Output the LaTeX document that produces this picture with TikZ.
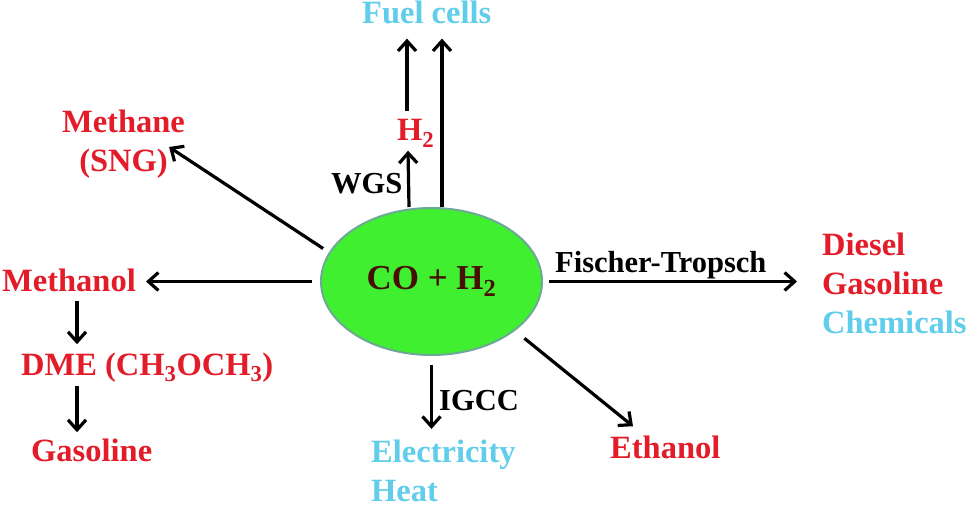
\documentclass[tikz,border=0pt]{standalone}
\usepackage{fontspec}
\setmainfont{Liberation Serif}
\usetikzlibrary{arrows.meta,shapes.geometric}
\definecolor{prodred}{RGB}{226,28,40}
\definecolor{prodcyan}{RGB}{96,206,234}
\definecolor{syngreen}{RGB}{64,240,48}
\definecolor{synedge}{RGB}{110,168,150}
\definecolor{synbrown}{RGB}{72,14,4}
\begin{document}
\begin{tikzpicture}[x=1pt,y=-1pt,
    lbl/.style={inner sep=0pt, font=\bfseries\fontsize{32.5}{39}\selectfont},
    prod/.style={lbl, text=prodred},
    enduse/.style={lbl, text=prodcyan},
    procname/.style={inner sep=0pt, font=\bfseries\fontsize{30.5}{36}\selectfont},
    arr/.style={line width=3.2pt, -{Straight Barb[length=10pt,width=18pt]}}]
    \useasboundingbox (0,0) rectangle (969,508);
    \fill[white] (0,0) rectangle (969,508);

    \node[ellipse, draw=synedge, line width=2pt, fill=syngreen,
          minimum width=221pt, minimum height=147pt, inner sep=0pt,
          font=\bfseries\fontsize{35}{40}\selectfont, text=synbrown]
          (syn) at (431.5,281.5) {\raisebox{-4pt}{CO + H\textsubscript{2}}};

    \node[enduse, anchor=base west] (fuel) at (362,24) {Fuel cells};
    \node[prod, anchor=base west] (h2) at (397,141) {H\textsubscript{2}};
    \node[procname, anchor=base west] (wgs) at (331,193) {WGS};
    \node[prod, align=center] (methane) at (123.5,144) {Methane\\(SNG)};
    \node[prod, anchor=base west] (meoh) at (2,291) {Methanol};
    \node[prod, anchor=base west] (dme) at (21,375) {DME (CH\textsubscript{3}OCH\textsubscript{3})};
    \node[prod, anchor=base west] (gasoline) at (31,461) {Gasoline};
    \node[procname, anchor=base west] (igcc) at (439,410) {IGCC};
    \node[enduse, align=left, anchor=west] (power) at (371,471) {Electricity\\Heat};
    \node[prod, anchor=base west] (ethanol) at (610,458) {Ethanol};
    \node[procname, anchor=base west] (ft) at (555,272) {Fischer-Tropsch};
    \node[lbl, align=left, anchor=west] (fuels) at (822,283)
        {\textcolor{prodred}{Diesel}\\\textcolor{prodred}{Gasoline}\\\textcolor{prodcyan}{Chemicals}};

    % routes out of the syngas
    \draw[arr] ([xshift=-22.5pt]syn.north) -- ([xshift=11pt,yshift=-3pt]h2.south west);
    \draw[arr] ([xshift=10pt,yshift=9pt]h2.north west) -- ([xshift=45pt,yshift=-14pt]fuel.south west);
    \draw[arr] ([xshift=10.5pt]syn.north) -- ([xshift=80pt,yshift=-14pt]fuel.south west);
    \draw[arr] ([shift={(-7,-2)}]syn.163) -- ([shift={(-16,3)}]methane.east);
    \draw[arr, shorten <=8pt, shorten >=10pt] (syn.west) -- (syn.west -| meoh.east);
    \draw[arr, shorten <=9pt, shorten >=8pt] ([xshift=75pt]meoh.south west) -- ([xshift=75pt]meoh.south west |- dme.north);
    \draw[arr, shorten <=4pt, shorten >=6pt] ([xshift=56pt]dme.south west) -- ([xshift=56pt]dme.south west |- gasoline.north);
    \draw[arr, shorten <=9pt, shorten >=11pt] (syn.south) -- (syn.south |- power.north);
    \draw[arr] ([shift={(10,7)}]syn.329) -- ([shift={(23,-9)}]ethanol.north west);
    \draw[arr, shorten <=6pt, shorten >=25pt] (syn.east) -- (syn.east -| fuels.west);
\end{tikzpicture}
\end{document}
